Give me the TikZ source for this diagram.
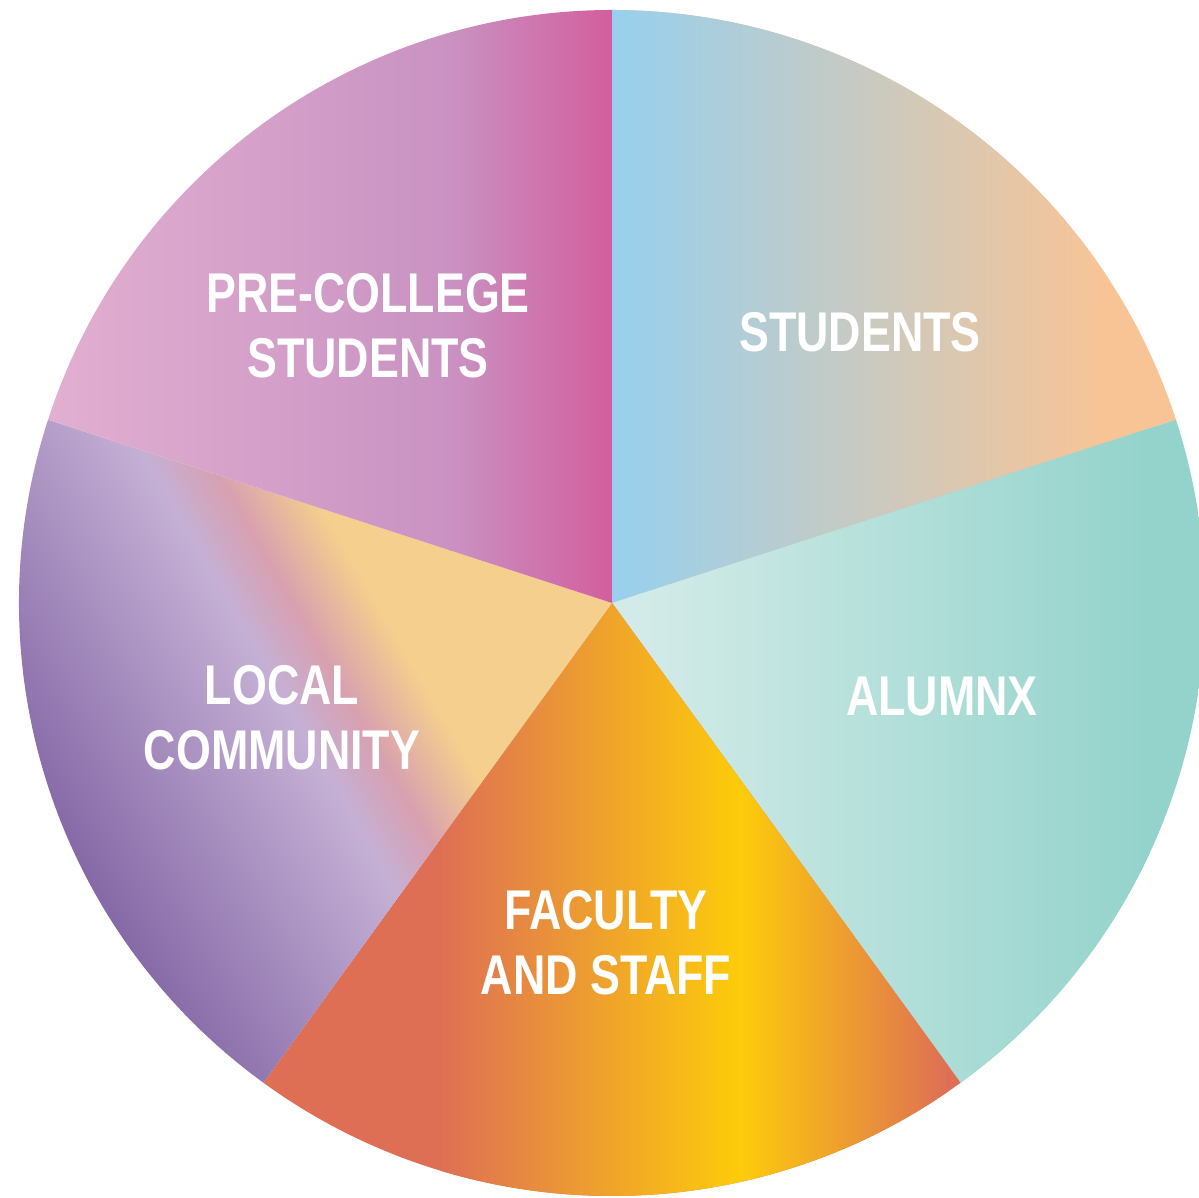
\documentclass[tikz,border=0pt]{standalone}
\usepackage{fontspec}
\setmainfont{Liberation Sans}[FakeStretch=0.8]
\newcommand\piefont{\fontsize{56}{65}\selectfont\bfseries}
\definecolor{stuL}{HTML}{97D0EE}
\definecolor{stuR}{HTML}{F9C495}
\definecolor{aluL}{HTML}{D3EBE8}
\definecolor{aluR}{HTML}{93D3CB}
\definecolor{facR}{HTML}{DE6F55}
\definecolor{facY}{HTML}{FDCC0A}
\definecolor{lcA}{HTML}{7F62A2}
\definecolor{lcB}{HTML}{C5B0D5}
\definecolor{lcC}{HTML}{D8A0B0}
\definecolor{lcD}{HTML}{F5CF8D}
\definecolor{preA}{HTML}{E2B0D1}
\definecolor{preB}{HTML}{C992C2}
\definecolor{preC}{HTML}{D35E9D}

\begin{document}
\begin{tikzpicture}[x=1pt,y=1pt,
  lbl/.style={text=white,font=\piefont,align=center,inner sep=0pt}]
  \useasboundingbox (0,0) rectangle (1199,1197);
  \coordinate (o) at (612,594);
  % students
  \begin{scope}
    \clip (o) -- ++(90:593) arc[start angle=90,end angle=18,radius=593] -- cycle;
    \fill[stuR] (600,580) rectangle (1210,1197);
    \shade[left color=stuL,right color=stuR] (612,580) rectangle (1110,1197);
  \end{scope}
  % alumnx
  \begin{scope}
    \clip (o) -- ++(18:593) arc[start angle=18,end angle=-54,radius=593] -- cycle;
    \fill[aluR] (600,0) rectangle (1210,800);
    \fill[aluL] (600,0) rectangle (641,800);
    \shade[left color=aluL,right color=aluR] (640,0) rectangle (1150,800);
  \end{scope}
  % faculty and staff
  \begin{scope}
    \clip (o) -- ++(-54:593) arc[start angle=-54,end angle=-126,radius=593] -- cycle;
    \fill[facR] (250,0) rectangle (980,600);
    \shade[left color=facR,right color=facY] (440,0) rectangle (741,600);
    \shade[left color=facY,right color=facR] (740,0) rectangle (948,600);
  \end{scope}
  % local community
  \begin{scope}
    \clip (o) -- ++(234:593) arc[start angle=234,end angle=162,radius=593] -- cycle;
    \begin{scope}[transform canvas={shift={(612,594)},rotate=30}]
      \fill[lcD] (-205,-620) rectangle (300,620);
      \shade[left color=lcA,right color=lcB] (-620,-620) rectangle (-331,620);
      \shade[left color=lcB,right color=lcC] (-332,-620) rectangle (-276,620);
      \shade[left color=lcC,right color=lcD] (-277,-620) rectangle (-204,620);
    \end{scope}
  \end{scope}
  % pre-college students
  \begin{scope}
    \clip (o) -- ++(162:593) arc[start angle=162,end angle=90,radius=593] -- cycle;
    \fill[preA] (0,580) rectangle (41,1197);
    \shade[left color=preA,right color=preB] (40,580) rectangle (451,1197);
    \shade[left color=preB,right color=preC] (450,580) rectangle (612,1197);
  \end{scope}

  \node[lbl] (stu) at (860,865) {STUDENTS};
  \node[lbl] (alu) at (942,500) {ALUMNX};
  \node[lbl] (fac) at (606,254.5) {FACULTY\\AND STAFF};
  \node[lbl] (loc) at (282,479.5) {LOCAL\\COMMUNITY};
  \node[lbl] (pre) at (368,871.5) {PRE-COLLEGE\\STUDENTS};
\end{tikzpicture}
\end{document}
